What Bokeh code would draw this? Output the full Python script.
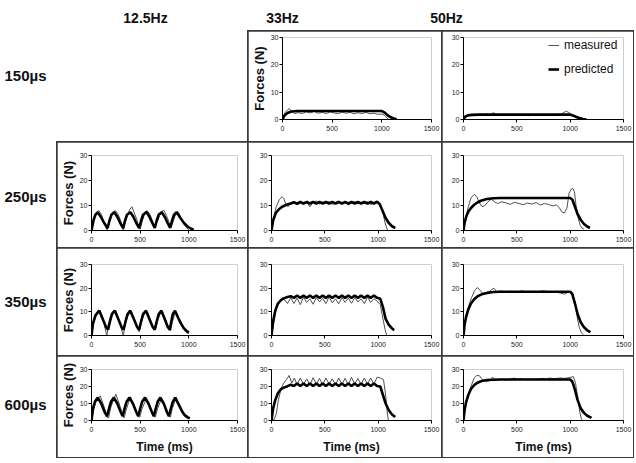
from bokeh.plotting import figure
from bokeh.models import Range1d, Legend, LegendItem, Spacer, FixedTicker, Row, Column
from bokeh.embed import file_html
from bokeh.resources import INLINE

# ---------------- data ----------------
col_headers = ["12.5Hz", "33Hz", "50Hz"]
row_headers = ["150\u00b5s", "250\u00b5s", "350\u00b5s", "600\u00b5s"]
x_ticks = [0, 500, 1000, 1500]
y_ticks = [0, 10, 20, 30]

# 12.5 Hz, 250 us
p125_250_t = [0, 20, 40, 65, 95, 130, 165, 185, 205, 235, 265, 295, 325, 345, 365, 400, 430, 460, 490, 510, 530, 565, 595, 625, 650, 670, 690, 722, 752, 782, 808, 828, 848, 875, 910, 950, 990, 1020, 1050]
p125_250_f = [0, 4, 6.3, 7.2, 5.5, 3, 1, 4, 6.3, 7.3, 5.5, 3, 1, 4, 6.3, 7.3, 5.5, 3, 1, 4, 6.3, 7.4, 5.5, 3, 1, 4, 6.3, 7.3, 5.5, 3, 1, 4, 6.3, 7.3, 5.2, 3, 1.5, 0.8, 0.3]
m125_250_t = [0, 15, 35, 55, 75, 100, 130, 150, 162, 175, 200, 225, 245, 270, 300, 318, 328, 345, 370, 395, 415, 440, 465, 485, 500, 520, 545, 570, 600, 630, 650, 670, 700, 725, 745, 770, 795, 812, 830, 855, 880, 895, 920, 950, 980, 1000]
m125_250_f = [0, 3, 6, 7.5, 8, 6.5, 3.5, 1, 0, 2.5, 5.5, 7.5, 8, 6.8, 4, 1, 0, 3, 6.5, 8.5, 9.5, 7, 4.5, 1.5, 0.5, 3.5, 6.5, 8, 6.5, 3.5, 1, 3, 6, 7.8, 8, 6, 3.5, 1, 2.5, 5.5, 7.5, 7.2, 5, 2.5, 1, 0.2]

# 12.5 Hz, 350 us
p125_350_t = [0, 15, 40, 80, 115, 150, 170, 190, 210, 240, 275, 310, 330, 350, 370, 398, 435, 470, 490, 510, 530, 560, 595, 630, 650, 670, 690, 718, 752, 785, 805, 820, 835, 858, 890, 920, 950, 980, 1000]
p125_350_f = [0, 5, 8.5, 10.5, 7, 3.5, 2.5, 6, 9, 10.5, 7, 3.5, 2.5, 6, 9, 10.5, 7, 3.5, 2.5, 6, 9, 10.5, 7, 3.5, 2.5, 6, 9, 10.5, 7, 3.5, 2.5, 6, 9, 10.5, 7.5, 5, 3, 1.8, 1.2]
m125_350_t = [0, 20, 50, 90, 120, 145, 158, 170, 195, 220, 250, 285, 315, 328, 340, 365, 390, 412, 445, 475, 490, 505, 530, 555, 575, 610, 640, 660, 685, 710, 730, 765, 795, 812, 830, 855, 872, 905, 940, 970, 1000]
m125_350_f = [0, 5, 8.5, 10.5, 7, 2, 0, 4, 8, 10.2, 10.5, 6, 1.5, 0, 3.5, 7.5, 9.5, 10, 6.5, 2.5, 1.5, 4.5, 8, 9.8, 10, 6, 2.5, 3, 7, 9.5, 10, 6, 2.5, 2, 5.5, 9, 10, 6, 3, 1.5, 0.8]

# 12.5 Hz, 600 us
p125_600_t = [0, 15, 35, 65, 100, 135, 160, 180, 200, 230, 265, 300, 320, 340, 360, 390, 425, 460, 480, 500, 520, 550, 585, 620, 640, 660, 680, 707, 742, 775, 795, 815, 835, 860, 895, 930, 960, 990, 1010]
p125_600_f = [0, 7, 11, 13.5, 10, 5, 2.5, 7, 11, 13.5, 10, 5, 2.5, 7, 11, 13.5, 10, 5, 2.5, 7, 11, 13.5, 10, 5, 2.5, 7, 11, 13.5, 10, 5, 2.5, 7, 11, 13.5, 9.5, 5.5, 3, 1.8, 1.2]
m125_600_t = [0, 20, 50, 90, 130, 160, 175, 200, 250, 290, 320, 335, 355, 400, 440, 480, 495, 520, 565, 600, 640, 655, 680, 720, 760, 795, 810, 830, 870, 910, 950, 980, 1000]
m125_600_f = [0, 6, 12, 14.5, 8, 2, 1.5, 8, 15.5, 9, 3, 1.5, 6, 14, 8, 2.5, 2, 7, 13, 8, 2.5, 2, 7, 13, 7.5, 2.5, 2, 7, 13.5, 7, 3, 1.5, 1]

# 33 Hz, 150 us
p33_150_t = [0, 20, 50, 90, 150, 300, 500, 700, 900, 1000, 1030, 1060, 1090, 1120, 1150]
p33_150_f = [0, 1.5, 2.4, 2.9, 3.1, 3.1, 3.1, 3.1, 3.1, 3.1, 2.5, 1.5, 0.8, 0.4, 0.1]
m33_150_t = [0, 25, 50, 70, 90, 120, 160, 200, 240, 280, 320, 360, 400, 440, 480, 520, 560, 600, 640, 680, 720, 760, 800, 840, 880, 920, 960, 1000, 1030, 1050, 1065]
m33_150_f = [0, 2.5, 3.5, 4, 3, 2.2, 2.5, 2.2, 2.8, 2.4, 3, 2.3, 2.6, 2.2, 2.8, 2.4, 2.2, 2.7, 2.3, 2.6, 2.1, 2.5, 2.2, 2.6, 2.1, 2.3, 1.9, 2, 1.5, 0.6, 0]

# 33 Hz, 250 us
p33_250_t = [0, 15, 40, 70, 100, 140, 180, 210, 240, 270, 300, 330, 360, 390, 420, 450, 480, 510, 540, 570, 600, 630, 660, 690, 720, 750, 780, 810, 840, 870, 900, 930, 960, 990, 1015, 1040, 1070, 1100, 1130, 1160]
p33_250_f = [0, 4, 7, 8.5, 9.5, 10.3, 10.8, 11.3, 10.7, 11.4, 10.8, 11.4, 10.8, 11.4, 10.8, 11.4, 10.8, 11.4, 10.8, 11.4, 10.8, 11.4, 10.8, 11.4, 10.8, 11.4, 10.8, 11.4, 10.8, 11.4, 10.8, 11.4, 10.8, 11.5, 10.5, 8, 5, 3, 1.7, 1]
m33_250_t = [0, 20, 45, 75, 100, 115, 135, 155, 180, 210, 240, 270, 300, 330, 360, 390, 420, 450, 480, 510, 540, 570, 600, 630, 660, 690, 720, 750, 780, 810, 840, 870, 900, 930, 960, 990, 1020, 1045, 1065, 1080, 1090]
m33_250_f = [0, 5, 9.5, 12.5, 13.5, 12.8, 10.5, 9.5, 11, 11.5, 10.8, 11.8, 10.5, 11.5, 9.5, 11.3, 11.8, 10.6, 11.5, 10.9, 11.6, 10.4, 11.2, 11.7, 10.8, 11.4, 10.2, 11, 11.6, 10.6, 11.3, 10.8, 11.5, 10.4, 11, 11.2, 10.5, 7, 3, 1, 0]

# 33 Hz, 350 us
p33_350_t = [0, 15, 35, 60, 90, 120, 150, 180, 210, 240, 270, 300, 330, 360, 390, 420, 450, 480, 510, 540, 570, 600, 630, 660, 690, 720, 750, 780, 810, 840, 870, 900, 930, 960, 990, 1020, 1045, 1070, 1100, 1130, 1150]
p33_350_f = [0, 6, 10.5, 13.5, 15, 15.8, 16.3, 16.6, 15.9, 16.9, 15.9, 16.9, 15.9, 16.9, 15.9, 16.9, 15.9, 16.9, 15.9, 16.9, 15.9, 16.9, 15.9, 16.9, 15.9, 16.9, 15.9, 16.9, 15.9, 16.9, 15.9, 16.9, 15.9, 16.9, 15.9, 15.5, 12, 7, 4.5, 3, 2.2]
m33_350_t = [0, 20, 40, 70, 100, 125, 150, 180, 210, 240, 270, 300, 330, 360, 390, 420, 450, 480, 510, 540, 570, 600, 630, 660, 690, 720, 750, 780, 810, 840, 870, 900, 930, 960, 990, 1020, 1045, 1065, 1080]
m33_350_f = [0, 5, 10, 14.5, 16, 15, 13.5, 16, 13.5, 15.8, 13, 16.2, 14, 15.5, 13.2, 16, 14.2, 15.7, 13.5, 16.3, 13.8, 15.5, 13.4, 16, 14, 15.8, 13.6, 16, 14.2, 15.5, 13.5, 16.2, 14, 15.6, 14.5, 13, 7, 2.5, 0]

# 33 Hz, 600 us
p33_600_t = [0, 15, 35, 60, 90, 120, 150, 180, 210, 240, 270, 300, 330, 360, 390, 420, 450, 480, 510, 540, 570, 600, 630, 660, 690, 720, 750, 780, 810, 840, 870, 900, 930, 960, 990, 1020, 1045, 1070, 1100, 1130, 1160]
p33_600_f = [0, 7, 12, 16, 18.5, 19.5, 20.2, 21, 20.3, 21.8, 20.3, 21.8, 20.3, 21.8, 20.3, 21.8, 20.3, 21.8, 20.3, 21.8, 20.3, 21.8, 20.3, 21.8, 20.3, 21.8, 20.3, 21.8, 20.3, 21.8, 20.3, 21.8, 20.3, 21.8, 20.3, 20, 15, 10, 6, 3.5, 2]
m33_600_t = [0, 25, 45, 65, 90, 115, 140, 165, 190, 215, 240, 270, 300, 330, 360, 390, 420, 450, 480, 510, 540, 570, 600, 630, 660, 690, 720, 750, 780, 810, 840, 870, 900, 930, 960, 990, 1020, 1050, 1070, 1085, 1095]
m33_600_f = [0, 0.5, 4, 12, 19, 22, 24, 26.5, 22, 25, 21, 25, 21.5, 24.5, 21, 25.2, 21.5, 24.8, 21, 25, 21.5, 24.5, 21, 25, 21.3, 24.8, 21, 25.3, 21.5, 24.7, 21.2, 25, 21.5, 25, 21.3, 25.5, 25, 24, 15, 5, 0]

# 50 Hz, 150 us
p50_150_t = [0, 15, 40, 80, 150, 400, 700, 1000, 1030, 1060, 1090, 1120, 1150]
p50_150_f = [0, 1, 1.5, 1.7, 1.8, 1.8, 1.8, 1.8, 1.4, 0.9, 0.5, 0.2, 0.05]
m50_150_t = [0, 20, 40, 60, 80, 100, 130, 160, 190, 220, 250, 280, 310, 340, 370, 400, 430, 460, 490, 520, 550, 580, 610, 640, 670, 700, 730, 760, 790, 820, 850, 880, 910, 940, 965, 990, 1010, 1040, 1070, 1090]
m50_150_f = [0, 1.5, 1.2, 1.9, 1.4, 2, 1.5, 1.9, 1.6, 2.1, 1.7, 2.5, 1.8, 1.9, 1.5, 1.9, 1.6, 1.8, 1.5, 1.9, 1.6, 1.7, 1.4, 1.8, 1.5, 1.7, 1.4, 1.8, 1.6, 1.7, 1.5, 2, 1.8, 2.6, 3, 2.5, 1.8, 1, 0.4, 0]

# 50 Hz, 250 us
p50_250_t = [0, 10, 25, 45, 70, 100, 130, 170, 220, 280, 350, 500, 700, 900, 1000, 1020, 1045, 1070, 1100, 1130, 1160, 1185]
p50_250_f = [0, 3, 5.5, 7.5, 9, 10.3, 11.2, 12, 12.6, 12.9, 13, 13, 13, 13, 13, 12.4, 9.5, 6.5, 4.2, 2.6, 1.6, 1]
m50_250_t = [0, 20, 45, 70, 100, 125, 150, 175, 200, 230, 260, 290, 320, 360, 400, 440, 480, 520, 560, 600, 640, 680, 720, 760, 800, 840, 870, 900, 920, 945, 970, 990, 1010, 1025, 1040, 1055, 1075, 1095, 1110, 1130]
m50_250_f = [0, 5, 9.5, 13, 14.5, 13.5, 11, 9.5, 10, 11.5, 12.5, 11.5, 10.8, 11.5, 11, 10.5, 11.3, 10.8, 10.3, 11, 10.6, 11.2, 10.2, 10.8, 10.4, 9.8, 10.3, 9, 7.5, 7, 9, 15, 16.5, 16.8, 15.5, 10, 5, 2, 1, 0.5]

# 50 Hz, 350 us
p50_350_t = [0, 10, 25, 45, 70, 100, 130, 170, 220, 280, 350, 500, 700, 900, 1000, 1020, 1045, 1070, 1100, 1130, 1160, 1190]
p50_350_f = [0, 4.5, 8, 11, 13.5, 15.3, 16.5, 17.4, 18, 18.4, 18.5, 18.5, 18.5, 18.5, 18.5, 17.5, 13.5, 9, 5.5, 3.5, 2.2, 1.4]
m50_350_t = [0, 20, 45, 75, 105, 130, 155, 180, 210, 240, 265, 285, 310, 350, 400, 450, 500, 550, 600, 650, 700, 750, 800, 850, 900, 950, 990, 1020, 1045, 1065, 1085, 1105, 1125]
m50_350_f = [0, 7, 12, 16, 19, 20.3, 19, 17.8, 18, 18.5, 19.5, 20, 18.5, 18.8, 18.3, 18.7, 18.4, 18.9, 18.2, 18.7, 18.5, 18.9, 18.3, 18.6, 18, 17.5, 18.5, 18.2, 14, 8, 3.5, 1.2, 0.3]

# 50 Hz, 600 us
p50_600_t = [0, 10, 25, 45, 70, 100, 130, 170, 220, 280, 350, 500, 700, 900, 1000, 1020, 1045, 1070, 1100, 1130, 1160, 1200]
p50_600_f = [0, 6, 11, 15, 18.5, 20.8, 22.2, 23.2, 23.8, 24, 24.1, 24.1, 24.1, 24.1, 24.1, 23, 18, 12, 7, 4.5, 2.8, 1.5]
m50_600_t = [0, 20, 45, 75, 100, 125, 150, 170, 195, 220, 250, 270, 300, 350, 400, 450, 480, 500, 550, 580, 600, 650, 700, 750, 780, 800, 850, 900, 950, 1000, 1030, 1050, 1070, 1090, 1105, 1115]
m50_600_f = [0, 9, 15, 21, 25, 26.5, 26.3, 24.5, 23.2, 23, 23.5, 25.5, 24, 24.3, 23.8, 24.5, 25, 24.2, 24.6, 24, 24.4, 24.2, 24.5, 24.8, 24.3, 25, 24.6, 25, 24.8, 25.3, 25.8, 22, 14, 5, 1, 0]

# ---------------- layout ----------------
FONT = "Liberation Sans"
LINE = "#3a3a3a"
W = [190, 193, 191]          # inner cell widths
H = [110, 105, 107, 101]     # inner cell heights
LEFT = [31, 23, 21]
TOP = [6, 13, 16, 13]
BOTTOM = [22, 17, 20, 37]
RIGHT = 10
LABEL_W = 56
HEAD_H = 30


def cell(r, c, mt, mf, pt, pf, ylabel=False, xlabel=False, legend=False, left=None):
    lb = LEFT[c] if left is None else left
    p = figure(width=W[c], height=H[r], x_range=Range1d(0, 1500), y_range=Range1d(0, 30),
               output_backend="svg", toolbar_location=None,
               min_border_left=lb, min_border_right=RIGHT,
               min_border_top=TOP[r], min_border_bottom=BOTTOM[r])
    p.grid.visible = False
    p.outline_line_color = None
    p.background_fill_color = "white"
    p.border_fill_color = "white"
    m = p.line(mt, mf, line_color="#505050", line_width=1)
    pr = p.line(pt, pf, line_color="black", line_width=2.6)
    for ax in (p.xaxis[0], p.yaxis[0]):
        ax.axis_line_color = "black"
        ax.axis_line_width = 1
        ax.major_tick_out = 3
        ax.major_tick_in = 0
        ax.minor_tick_out = 0
        ax.minor_tick_in = 0
        ax.major_tick_line_color = "black"
        ax.major_label_text_font = FONT
        ax.major_label_text_font_size = "7px"
        ax.major_label_text_color = "#222222"
        ax.axis_label_text_font = FONT
        ax.axis_label_text_font_style = "bold"
        ax.axis_label_text_color = "#111111"
    p.xaxis.ticker = FixedTicker(ticks=x_ticks)
    p.yaxis.ticker = FixedTicker(ticks=y_ticks)
    p.xaxis.major_label_standoff = 3
    p.yaxis.major_label_standoff = 1
    if ylabel:
        p.yaxis.axis_label = "Forces (N)"
        p.yaxis.axis_label_text_font_size = "13px"
        p.yaxis.axis_label_standoff = 1
    if xlabel:
        p.xaxis.axis_label = "Time (ms)"
        p.xaxis.axis_label_text_font_size = "12px"
        p.xaxis.axis_label_standoff = 5
    if legend:
        lg = Legend(items=[LegendItem(label="measured", renderers=[m]),
                           LegendItem(label="predicted", renderers=[pr])],
                    location=(85, 42), border_line_color=None, background_fill_alpha=0,
                    glyph_width=11, glyph_height=16, label_height=16, spacing=8,
                    padding=0, margin=0, label_standoff=5,
                    label_text_font=FONT, label_text_font_size="12px",
                    label_text_color="#111111")
        p.add_layout(lg)
    return p


c12 = cell(0, 1, m33_150_t, m33_150_f, p33_150_t, p33_150_f, ylabel=True, left=28)
c13 = cell(0, 2, m50_150_t, m50_150_f, p50_150_t, p50_150_f, legend=True)

c21 = cell(1, 0, m125_250_t, m125_250_f, p125_250_t, p125_250_f, ylabel=True)
c22 = cell(1, 1, m33_250_t, m33_250_f, p33_250_t, p33_250_f)
c23 = cell(1, 2, m50_250_t, m50_250_f, p50_250_t, p50_250_f)

c31 = cell(2, 0, m125_350_t, m125_350_f, p125_350_t, p125_350_f, ylabel=True)
c32 = cell(2, 1, m33_350_t, m33_350_f, p33_350_t, p33_350_f)
c33 = cell(2, 2, m50_350_t, m50_350_f, p50_350_t, p50_350_f)

c41 = cell(3, 0, m125_600_t, m125_600_f, p125_600_t, p125_600_f, ylabel=True, xlabel=True)
c42 = cell(3, 1, m33_600_t, m33_600_f, p33_600_t, p33_600_f, xlabel=True)
c43 = cell(3, 2, m50_600_t, m50_600_f, p50_600_t, p50_600_f, xlabel=True)

box_style = {"background-color": LINE}
top_cells = Row(children=[c12, c13], spacing=1,
                styles=dict(box_style, padding="1px 1px 0px 1px"))
top_part = Row(children=[Spacer(width=W[0] + 1, height=H[0] + 1), top_cells])
bottom_box = Column(children=[Row(children=[c21, c22, c23], spacing=1),
                              Row(children=[c31, c32, c33], spacing=1),
                              Row(children=[c41, c42, c43], spacing=1)],
                    spacing=1, styles=dict(box_style, padding="1px"))
grid = Column(children=[top_part, bottom_box])

grid_h = (H[0] + 1) + (H[1] + H[2] + H[3] + 4)
grid_w = W[0] + W[1] + W[2] + 4
TOTAL_W = LABEL_W + grid_w

# header figure with column titles
head = figure(width=TOTAL_W, height=HEAD_H, x_range=Range1d(0, TOTAL_W), y_range=Range1d(HEAD_H, 0),
              output_backend="svg", toolbar_location=None, min_border=0)
head.axis.visible = False
head.grid.visible = False
head.outline_line_color = None
head_x = [145, 282, 446]
head.text(x=head_x, y=[17] * 3, text=col_headers, text_align="center", text_baseline="alphabetic",
          text_font={"value": FONT}, text_font_size="14px", text_font_style="bold", text_color="#111111")

# row label figure
lab = figure(width=LABEL_W, height=grid_h, x_range=Range1d(0, LABEL_W), y_range=Range1d(grid_h, 0),
             output_backend="svg", toolbar_location=None, min_border=0)
lab.axis.visible = False
lab.grid.visible = False
lab.outline_line_color = None
lab_y = [45, 166, 271, 374]
lab.text(x=[4] * 4, y=lab_y, text=row_headers, text_align="left", text_baseline="middle",
         text_font={"value": FONT}, text_font_size="15px", text_font_style="bold", text_color="#111111")

page = Column(children=[head, Row(children=[lab, grid])])

open("out.html", "w").write(file_html(page, INLINE))
